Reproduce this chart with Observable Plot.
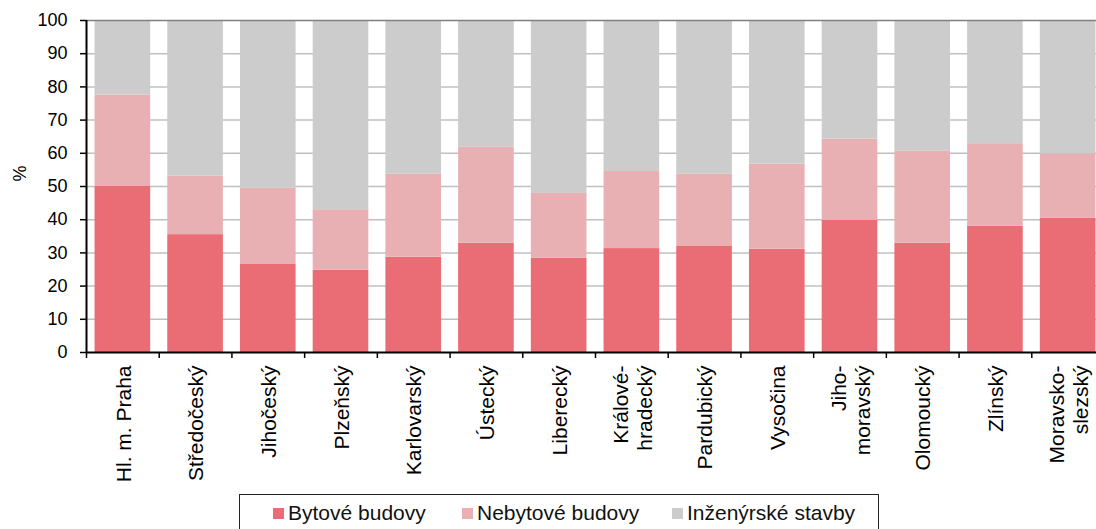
<!DOCTYPE html>
<html><head><meta charset="utf-8">
<script src="https://cdn.jsdelivr.net/npm/d3@7"></script>
<script src="https://cdn.jsdelivr.net/npm/@observablehq/plot@0.6"></script>
<style>
body{margin:0;background:#fff;overflow:hidden;font-family:"Liberation Sans",Arial,sans-serif;}
#wrap{position:relative;width:1096px;height:529px;overflow:hidden;}
#legend{position:absolute;left:239px;top:494px;width:640px;height:50px;border:1px solid #222;box-sizing:border-box;background:#fff;}
.item{position:absolute;top:6px;display:flex;align-items:center;font-size:21px;color:#111;white-space:nowrap;}
.sw{width:11px;height:11px;margin-right:4px;}
</style></head><body><div id="wrap"><div id="chart"></div><div id="legend"></div></div>
<script>
const regions = ["Praha","Stredocesky","Jihocesky","Plzensky","Karlovarsky","Ustecky","Liberecky","Kralovehradecky","Pardubicky","Vysocina","Jihomoravsky","Olomoucky","Zlinsky","Moravskoslezsky"];
const labels = ["Hl. m. Praha","Středočeský","Jihočeský","Plzeňský","Karlovarský","Ústecký","Liberecký","Králové-\nhradecký","Pardubický","Vysočina","Jiho-\nmoravský","Olomoucký","Zlínský","Moravsko-\nslezský"];
const bytove = [50.0, 35.5, 26.5, 24.8, 28.7, 32.9, 28.4, 31.3, 32.1, 31.1, 39.8, 32.9, 38.0, 40.4];
const nebytove = [27.5, 17.6, 23.0, 18.2, 25.0, 28.9, 19.5, 23.2, 21.6, 25.6, 24.5, 27.7, 24.9, 19.4];
const inzenyrske = [22.5, 46.9, 50.5, 57.0, 46.3, 38.2, 52.1, 45.5, 46.3, 43.3, 35.7, 39.4, 37.1, 40.2];
const series = ["Bytové budovy","Nebytové budovy","Inženýrské stavby"];
const colors = ["#EA6C74","#E8B0B3","#CCCCCC"];
const yTicks = [0,10,20,30,40,50,60,70,80,90,100];

const values = [bytove, nebytove, inzenyrske];
const data = regions.flatMap((r,i) => series.map((s,k) => ({region:r, series:s, value:values[k][i]})));

const W=1096, H=492, ML=86, MR=-8, MT=20, MB=140;
const step = (W-ML-MR)/regions.length;

const chart = Plot.plot({
  width:W, height:H, marginLeft:ML, marginRight:MR, marginTop:MT, marginBottom:MB,
  style:{fontFamily:"'Liberation Sans', Arial, sans-serif", fontSize:"18px", color:"#000", background:"#fff", overflow:"hidden"},
  x:{domain:regions, paddingInner:0.235, paddingOuter:0.1175, round:false, axis:null},
  y:{domain:[0,100], axis:null},
  color:{domain:series, range:colors},
  marks:[
    Plot.ruleY(yTicks.slice(1,-1), {stroke:"#c0c0c0", strokeWidth:1.5}),
    Plot.barY(data, {x:"region", y:"value", fill:"series"}),
    Plot.ruleY([100], {stroke:"#808080", strokeWidth:1.5}),
    Plot.ruleY([0], {stroke:"#000", strokeWidth:2}),
    Plot.ruleX([regions[0]], {x:d=>d, dx:-step/2, stroke:"#000", strokeWidth:2}),
    Plot.ruleX(regions, {x:d=>d, y1:0, y2:0, insetBottom:-6, dx:-step/2, stroke:"#000", strokeWidth:1.5}),
    Plot.axisY({ticks:yTicks, tickSize:6, tickPadding:13, fontSize:18, label:null, strokeWidth:1.5}),
    Plot.text(["%"], {frameAnchor:"left", dx:-66, dy:-5, rotate:-90, fontSize:18, fill:"#000"}),
    Plot.text(regions, {x:d=>d, text:(d,i)=>labels[i], frameAnchor:"bottom", dy:13, rotate:-90, textAnchor:"end", lineAnchor:"middle", lineHeight:1.15, fontSize:21, fill:"#000"})
  ]
});
document.getElementById("chart").appendChild(chart);

const legend = document.getElementById("legend");
const lefts = [33, 222, 432];
series.forEach((s,k) => {
  const it = document.createElement("div");
  it.className = "item";
  it.style.left = lefts[k] + "px";
  it.innerHTML = `<span class="sw" style="background:${colors[k]}"></span><span>${s}</span>`;
  legend.appendChild(it);
});
</script>
</body></html>
